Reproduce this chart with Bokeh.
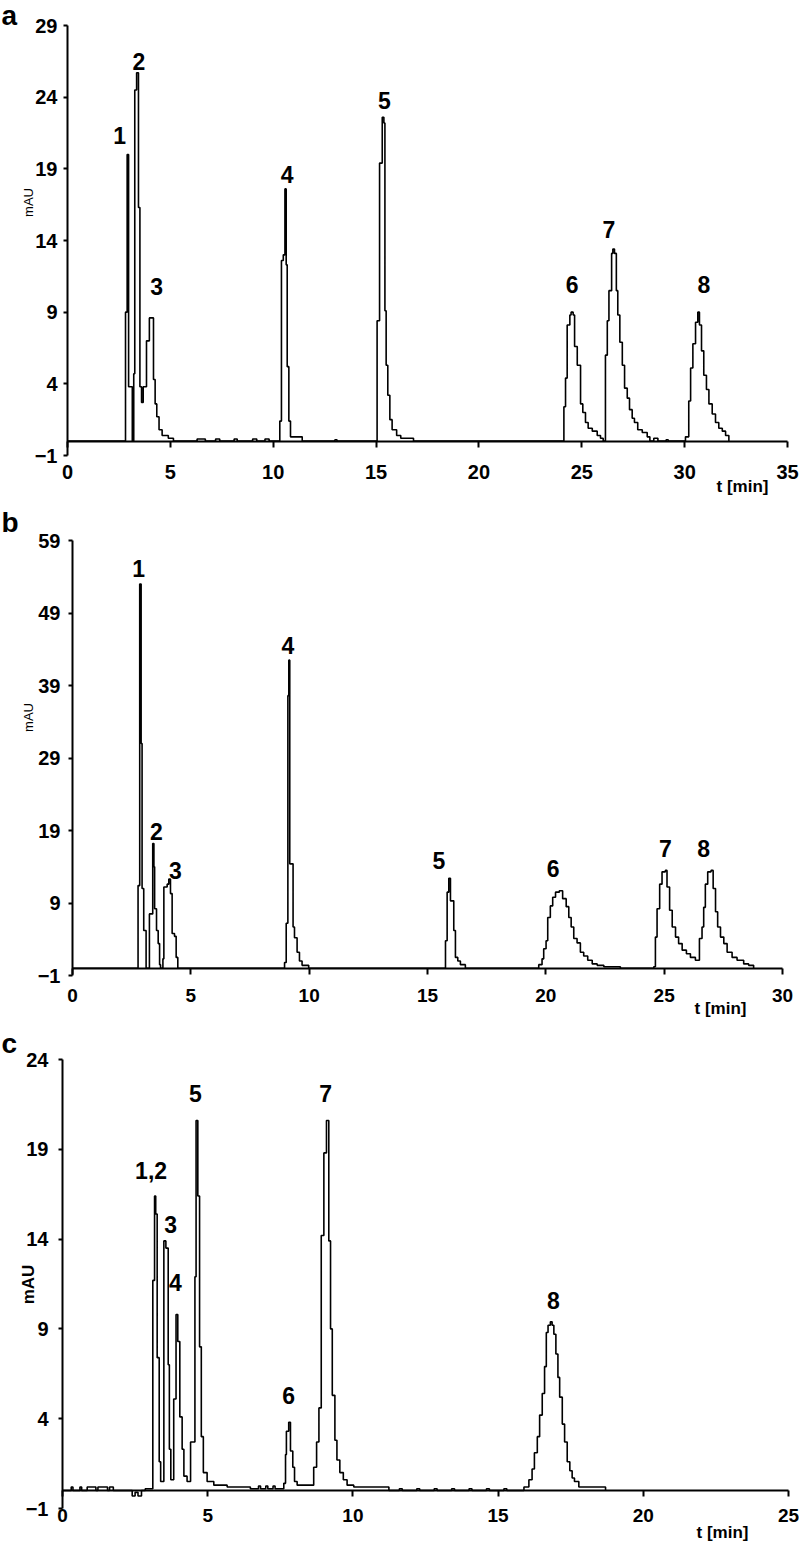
from bokeh.plotting import figure
from bokeh.models import FixedTicker, Label, Range1d, ColumnDataSource
from bokeh.layouts import column
from bokeh.embed import file_html
from bokeh.resources import INLINE
from bokeh.core.properties import value

# ---------------- data: panel a ----------------
a_t = [0.0, 2.82, 2.90, 2.97, 3.15, 3.22, 3.27, 3.36, 3.45, 3.52, 3.60, 3.68, 3.84, 3.98, 4.18, 4.26, 4.34, 4.45, 4.60, 4.90, 5.15,
       6.30, 6.70, 7.20, 7.40, 8.10, 8.25, 9.00, 9.20, 9.60, 9.80,
       10.32, 10.40, 10.49, 10.57, 10.63, 10.68, 10.76, 10.84, 11.41,
       13.00, 13.10,
       15.05, 15.17, 15.30, 15.38, 15.43, 15.49, 15.57, 15.67, 15.78, 16.00, 16.20, 16.82,
       24.13, 24.21, 24.29, 24.42, 24.48, 24.58, 24.65, 24.78, 24.94, 25.05, 25.18, 25.31, 25.51, 25.75, 25.91, 26.04,
       26.15, 26.24, 26.32, 26.45, 26.51, 26.59, 26.68, 26.75, 26.85, 26.97, 27.08, 27.21, 27.32, 27.45, 27.56, 27.72,
       27.94, 28.18, 28.31, 28.50, 28.70, 29.10, 29.20,
       30.04, 30.20, 30.29, 30.40, 30.53, 30.64, 30.72, 30.82, 30.93, 31.06, 31.18, 31.34, 31.50, 31.66, 31.83, 31.99, 32.15]
a_v = [0, 9.0, 20.0, 3.8, 0, 4.7, 24.5, 25.7, 16.3, 3.8, 2.7, 3.8, 7.0, 8.6, 4.3, 2.6, 1.7, 0.8, 0.4, 0.2, 0,
       0.15, 0, 0.15, 0, 0.15, 0, 0.15, 0, 0.15, 0,
       1.4, 12.6, 13.0, 17.6, 12.3, 5.2, 1.4, 0.3, 0,
       0.1, 0,
       8.4, 19.4, 22.6, 22.2, 9.1, 5.3, 3.2, 1.5, 0.8, 0.4, 0.2, 0,
       2.4, 4.4, 8.1, 8.8, 9.0, 8.8, 6.6, 5.3, 2.6, 2.0, 1.3, 0.9, 0.7, 0.4, 0.2, 0,
       6.0, 8.4, 10.5, 13.1, 13.4, 13.1, 10.5, 8.8, 6.9, 5.3, 3.7, 3.0, 2.2, 1.6, 1.3, 0.8,
       0.6, 0.3, 0, 0.2, 0, 0.1, 0,
       0.3, 2.8, 5.1, 6.8, 8.3, 9.0, 8.1, 6.3, 4.6, 3.6, 2.6, 1.9, 1.3, 0.9, 0.7, 0.4, 0]
a_peak_names = ["1", "2", "3", "4", "5", "6", "7", "8"]
a_peak_t = [2.53, 3.47, 4.33, 10.68, 15.41, 24.53, 26.32, 30.93]
a_peak_v = [21.3, 26.5, 10.8, 18.6, 23.8, 10.9, 14.8, 10.9]
a_xticks = [0, 5, 10, 15, 20, 25, 30, 35]
a_yticks = [-1, 4, 9, 14, 19, 24, 29]

# ---------------- data: panel b ----------------
b_t = [0.0, 2.77, 2.84, 2.90, 2.94, 3.01, 3.11, 3.25, 3.39, 3.44, 3.47, 3.55, 3.62, 3.68, 3.72,
       3.82, 3.86, 4.00, 4.07, 4.14, 4.21, 4.31, 4.38, 4.45,
       8.96, 9.03, 9.10, 9.14, 9.18, 9.32, 9.38, 9.49, 9.59, 9.70, 9.98,
       15.76, 15.83, 15.90, 15.97, 16.11, 16.18, 16.28, 16.39, 16.60,
       19.70, 19.84, 19.91, 20.01, 20.08, 20.19, 20.29, 20.41, 20.57, 20.71, 20.86, 20.97, 21.07, 21.18,
       21.32, 21.46, 21.60, 21.77, 21.96, 22.17, 22.45, 23.15,
       24.56, 24.63, 24.70, 24.81, 24.91, 25.05, 25.12, 25.23, 25.34, 25.48, 25.61, 25.76, 25.94, 26.11,
       26.32, 26.49, 26.60, 26.67, 26.74, 26.84, 26.98, 27.07, 27.17, 27.26, 27.38, 27.52, 27.66, 27.87,
       28.08, 28.36, 28.57, 28.78]
b_v = [0, 11.4, 53.0, 31.0, 11.0, 5.2, 0, 7.5, 17.2, 14.0, 8.2, 5.2, 3.4, 0.5, 0,
       1.3, 11.2, 11.6, 12.3, 10.3, 4.8, 4.4, 1.5, 0,
       0.8, 6.2, 37.6, 42.5, 14.4, 5.7, 4.2, 2.2, 1.0, 0.4, 0,
       3.8, 10.5, 12.4, 9.3, 5.2, 1.5, 1.0, 0.5, 0,
       0.5, 1.3, 2.7, 3.8, 7.0, 8.6, 9.8, 10.5, 10.7, 9.6, 8.5, 7.0, 5.7, 4.1,
       3.5, 2.2, 1.7, 1.1, 0.6, 0.4, 0.2, 0,
       0.2, 4.3, 8.2, 11.6, 13.3, 13.5, 11.2, 8.0, 5.7, 4.3, 3.4, 2.5, 2.0, 1.5,
       1.1, 4.1, 5.7, 8.4, 11.6, 13.3, 13.5, 11.0, 7.8, 5.7, 4.3, 3.4, 2.2, 1.5,
       1.1, 0.6, 0.4, 0]
b_peak_names = ["1", "2", "3", "4", "5", "6", "7", "8"]
b_peak_t = [2.80, 3.54, 4.35, 9.10, 15.48, 20.31, 25.05, 26.67]
b_peak_v = [55.1, 18.8, 13.5, 44.5, 14.9, 13.7, 16.5, 16.5]
b_xticks = [0, 5, 10, 15, 20, 25, 30]
b_yticks = [-1, 9, 19, 29, 39, 49, 59]

# ---------------- data: panel c ----------------
c_t = [0.0, 0.30, 0.36, 0.60, 0.66, 0.85, 1.15, 1.22, 1.55, 1.62, 1.75,
       2.40, 2.50, 2.60, 2.72, 2.85,
       3.11, 3.17, 3.21, 3.26, 3.33, 3.38, 3.49, 3.56, 3.64, 3.68, 3.73, 3.83, 3.91, 3.97, 4.04, 4.12,
       4.18, 4.29, 4.41, 4.56, 4.60, 4.66, 4.72, 4.78, 4.85, 4.98, 5.21, 5.67, 6.47,
       6.75, 6.82, 7.00, 7.07, 7.25, 7.32,
       7.62, 7.68, 7.71, 7.79, 7.85, 7.93, 7.99, 8.08,
       8.65, 8.75, 8.83, 8.91, 9.00, 9.09, 9.17, 9.23, 9.29, 9.38, 9.45, 9.55, 9.67, 9.80, 10.03, 11.24,
       11.60, 11.70, 12.20, 12.30, 12.80, 12.90, 13.40, 13.50, 14.00, 14.10, 14.60, 14.70, 15.20, 15.30,
       15.89, 16.06, 16.17, 16.25, 16.35, 16.43, 16.52, 16.60, 16.66, 16.72, 16.80, 16.86, 16.92, 16.99,
       17.06, 17.12, 17.21, 17.29, 17.38, 17.47, 17.55, 17.63, 17.78, 18.70]
c_v = [0, 0.2, 0, 0.2, 0, 0.2, 0, 0.2, 0, 0.2, 0,
       -0.3, -0.1, -0.3, 0, 0.1,
       11.7, 16.4, 15.4, 7.4, 1.6, 0.5, 13.9, 13.5, 7.0, 2.3, 0.6, 5.1, 9.8, 8.3, 4.1, 2.3,
       0.8, 0.5, 2.7, 11.9, 20.6, 16.4, 8.0, 3.0, 1.0, 0.5, 0.3, 0.2, 0.1,
       0.25, 0.1, 0.25, 0.1, 0.25, 0.1,
       0.4, 2.0, 3.3, 3.8, 2.2, 1.3, 0.5, 0.3,
       1.3, 2.7, 4.6, 14.2, 18.8, 20.6, 13.9, 9.0, 5.3, 2.8, 1.7, 1.0, 0.6, 0.3, 0.2, 0,
       0.1, 0, 0.1, 0, 0.1, 0, 0.1, 0, 0.1, 0, 0.1, 0, 0.1, 0,
       0.2, 0.6, 1.2, 2.1, 3.0, 4.2, 5.4, 6.9, 8.8, 9.2, 9.4, 9.2, 8.7, 7.6,
       6.3, 5.2, 3.7, 2.7, 1.6, 1.1, 0.7, 0.5, 0.2, 0]
c_peak_names = ["1,2", "3", "4", "5", "6", "7", "8"]
c_peak_t = [3.05, 3.72, 3.89, 4.58, 7.79, 9.06, 16.90]
c_peak_v = [17.8, 14.8, 11.6, 22.1, 5.3, 22.1, 10.6]
c_xticks = [0, 5, 10, 15, 20, 25]
c_yticks = [-1, 4, 9, 14, 19, 24]

# ---------------- layout (reference pixel geometry) ----------------
PAGE_W, PAGE_H = 799, 1541
SX = PAGE_W / 799.0
SY = PAGE_H / 1541.0
FONT = "Liberation Sans"


def make_panel(letter, t, v, names, pt, pv, xticks, yticks, band, frame, ylab, tlab,
               ylab_bold, ylab_size, ytick_size, xtick_size, xstand, ystand):
    top_px = round(band[0] * SY)
    h = round(band[1] * SY) - top_px
    W = PAGE_W
    L = frame[0] * SX
    R = frame[1] * SX
    T = frame[2] * SY - top_px
    B = frame[3] * SY - top_px
    x0, x1 = xticks[0], xticks[-1]
    y0, y1 = yticks[0], yticks[-1]
    kx = (R - L) / (x1 - x0)
    ky = (B - T) / (y1 - y0)

    p = figure(width=W, height=h, output_backend="svg", toolbar_location=None,
               x_range=Range1d(x0 - L / kx, x0 + (W - L) / kx),
               y_range=Range1d(y1 - (h - T) / ky, y1 + T / ky),
               min_border_left=0, min_border_right=0, min_border_top=0, min_border_bottom=0)
    p.grid.visible = False
    p.outline_line_color = None
    p.background_fill_color = "white"
    p.border_fill_color = "white"

    src = ColumnDataSource(dict(t=t, v=v))
    p.step("t", "v", source=src, mode="after", line_color="black", line_width=1.6)

    lsrc = ColumnDataSource(dict(t=pt, v=pv, s=names))
    p.text("t", "v", text="s", source=lsrc, text_font=value(FONT), text_font_style="bold",
           text_font_size="23px", text_align="center", text_baseline="middle", text_color="black")

    for ax in (p.xaxis[0], p.yaxis[0]):
        ax.axis_line_color = "black"
        ax.axis_line_width = 2
        ax.major_tick_line_color = "black"
        ax.major_tick_line_width = 2
        ax.major_tick_in = 0
        ax.minor_tick_line_color = None
        ax.major_label_text_font = FONT
        ax.major_label_text_font_style = "bold"
        ax.major_label_text_color = "black"

    p.xaxis.ticker = FixedTicker(ticks=xticks)
    p.xaxis.fixed_location = 0
    p.xaxis.bounds = (x0, x1)
    p.xaxis.major_tick_out = 6
    p.xaxis.major_label_standoff = xstand
    p.xaxis.major_label_text_font_size = xtick_size

    p.yaxis.ticker = FixedTicker(ticks=yticks)
    p.yaxis.fixed_location = x0
    p.yaxis.bounds = (y0, y1)
    p.yaxis.major_tick_out = 4
    p.yaxis.major_label_standoff = ystand
    p.yaxis.major_label_text_font_size = ytick_size

    def scr(rx, ry):
        return rx * SX, h - (ry * SY - top_px)

    lx, ly = scr(1, letter[1])
    p.add_layout(Label(x=lx, y=ly, x_units="screen", y_units="screen",
                       text=letter[0], text_font=FONT, text_font_style="bold", text_font_size="28px",
                       text_baseline="alphabetic", text_align="left", text_color="black"))
    mx, my = scr(*ylab)
    p.add_layout(Label(x=mx, y=my, x_units="screen", y_units="screen", text="mAU", angle=1.5708,
                       text_font=FONT, text_font_style="bold" if ylab_bold else "normal",
                       text_font_size=ylab_size, text_align="center", text_baseline="middle",
                       text_color="black"))
    tx, ty = scr(*tlab)
    p.add_layout(Label(x=tx, y=ty, x_units="screen", y_units="screen", text="t [min]",
                       text_font=FONT, text_font_style="bold", text_font_size="17px",
                       text_align="center", text_baseline="middle", text_color="black"))
    return p


pa = make_panel(("a", 15), a_t, a_v, a_peak_names, a_peak_t, a_peak_v, a_xticks, a_yticks,
                band=(0, 497), frame=(67, 787, 25, 455), ylab=(28, 202), tlab=(742, 486),
                ylab_bold=False, ylab_size="13px", ytick_size="20px", xtick_size="20px",
                xstand=18, ystand=6)
pb = make_panel(("b", 522), b_t, b_v, b_peak_names, b_peak_t, b_peak_v, b_xticks, b_yticks,
                band=(497, 1022), frame=(72, 782, 540, 975), ylab=(28, 717), tlab=(720, 1008),
                ylab_bold=False, ylab_size="13px", ytick_size="20px", xtick_size="19px",
                xstand=15, ystand=8)
pc = make_panel(("c", 1043), c_t, c_v, c_peak_names, c_peak_t, c_peak_v, c_xticks, c_yticks,
                band=(1022, 1541), frame=(62, 788, 1059, 1508), ylab=(28, 1284), tlab=(722, 1532),
                ylab_bold=True, ylab_size="17px", ytick_size="20px", xtick_size="19px",
                xstand=12, ystand=10)

layout = column(pa, pb, pc, spacing=0)
open("out.html", "w").write(file_html(layout, INLINE))
